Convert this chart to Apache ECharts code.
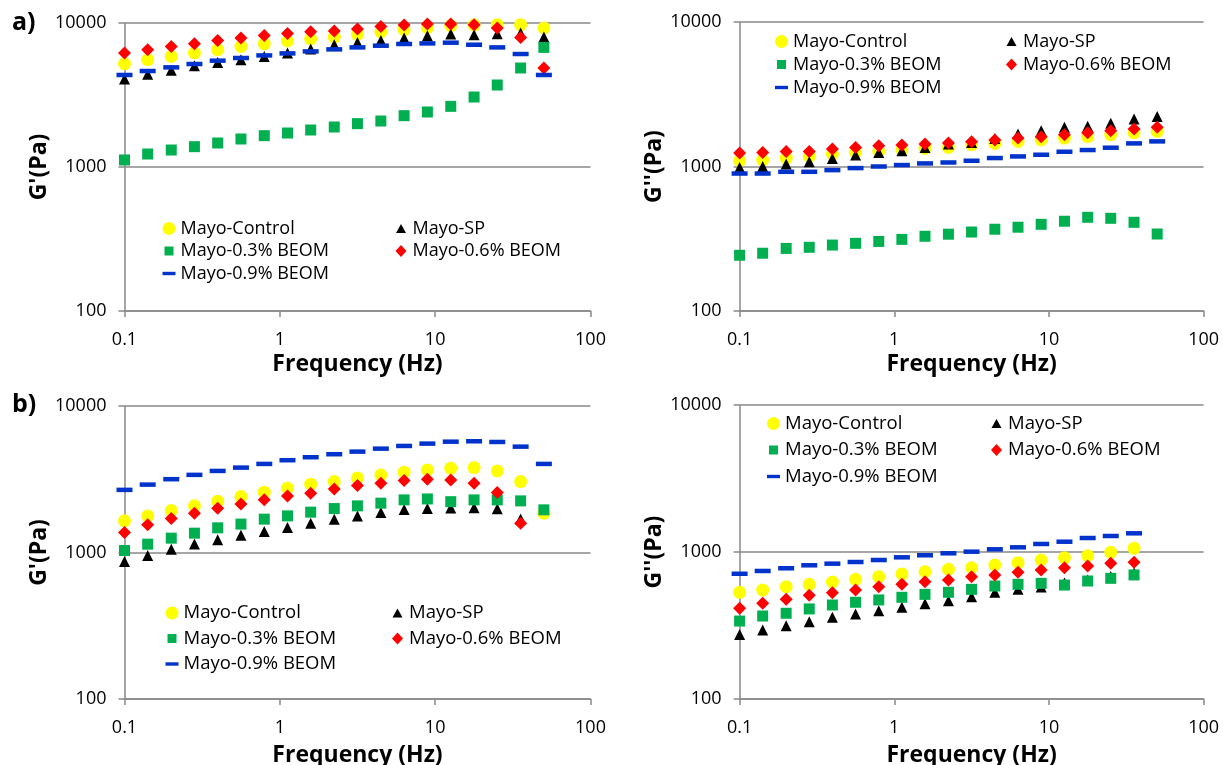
<!DOCTYPE html>
<html>
<head>
<meta charset="utf-8">
<script src="https://cdn.jsdelivr.net/npm/echarts@6/dist/echarts.min.js"></script>
<style>
html,body{margin:0;padding:0;background:#fff;}
#chart{width:1223px;height:765px;}
</style>
</head>
<body>
<div id="chart"></div>
<script>
// Frequency (Hz)
var freq = [0.1, 0.141, 0.2, 0.282, 0.398, 0.562, 0.794, 1.12, 1.58, 2.24, 3.16, 4.47, 6.31, 8.91, 12.6, 17.8, 25.1, 35.5, 50.1];

var seriesNames = ['Mayo-Control', 'Mayo-SP', 'Mayo-0.3% BEOM', 'Mayo-0.6% BEOM', 'Mayo-0.9% BEOM'];
var xTickLabels = ['0.1', '1', '10', '100'];
var yTickLabels = ['100', '1000', '10000'];
var panelLabels = ['a)', 'b)'];
var xTitle = 'Frequency (Hz)';
var yTitles = ["G'(Pa)", "G''(Pa)"];

// Panel a) G'
var aG1_control = [5215, 5560, 5860, 6190, 6530, 6880, 7180, 7500, 7740, 7990, 8330, 8660, 8990, 9280, 9580, 9680, 9730, 9730, 9230];
var aG1_sp      = [4085, 4400, 4690, 5050, 5325, 5560, 5860, 6190, 6600, 7070, 7330, 7570, 7870, 8160, 8390, 8300, 8430, 8520, 7990];
var aG1_b03     = [1119, 1231, 1312, 1384, 1468, 1565, 1650, 1722, 1807, 1896, 2000, 2086, 2272, 2410, 2637, 3062, 3710, 4870, 6770];
var aG1_b06     = [6190, 6530, 6880, 7180, 7570, 7870, 8200, 8470, 8700, 8800, 9080, 9470, 9680, 9840, 9840, 9730, 9230, 7940, 4870];
var aG1_b09     = [4355, 4640, 4920, 5190, 5475, 5715, 5955, 6150, 6350, 6560, 6770, 6955, 7150, 7215, 7300, 7065, 6770, 6090, 4355];

// Panel a) G''
var aG2_control = [1096, 1108, 1144, 1174, 1219, 1251, 1271, 1306, 1334, 1356, 1415, 1445, 1492, 1525, 1574, 1608, 1660, 1714, 1750];
var aG2_sp      = [985, 1000, 1039, 1078, 1137, 1200, 1251, 1286, 1356, 1430, 1468, 1565, 1680, 1770, 1866, 1896, 1990, 2133, 2215];
var aG2_b03     = [243, 251, 271, 276, 286, 294, 303, 313, 329, 340, 352, 368, 380, 398, 418, 445, 438, 411, 341];
var aG2_b06     = [1239, 1251, 1271, 1271, 1321, 1356, 1392, 1408, 1430, 1453, 1485, 1525, 1574, 1608, 1660, 1714, 1770, 1820, 1866];
var aG2_b09     = [894, 894, 919, 919, 944, 975, 1000, 1023, 1050, 1066, 1096, 1144, 1174, 1206, 1265, 1300, 1349, 1445, 1492];

// Panel b) G'
var bG1_control = [1644, 1778, 1933, 2081, 2240, 2408, 2582, 2748, 2925, 3048, 3230, 3385, 3532, 3663, 3762, 3797, 3604, 3048, 1856];
var bG1_sp      = [868, 954, 1054, 1141, 1221, 1314, 1390, 1480, 1586, 1689, 1778, 1874, 1965, 2000, 2010, 2020, 1990, 1690];
var bG1_b03     = [1032, 1140, 1253, 1355, 1474, 1563, 1689, 1778, 1886, 1995, 2081, 2172, 2287, 2320, 2223, 2287, 2287, 2251, 1955];
var bG1_b06     = [1368, 1545, 1705, 1856, 2008, 2147, 2287, 2435, 2540, 2718, 2862, 2972, 3097, 3165, 3130, 2972, 2565, 1586];
var bG1_b09     = [2676, 2907, 3165, 3388, 3604, 3797, 4024, 4265, 4470, 4686, 4881, 5116, 5337, 5536, 5708, 5745, 5682, 5279, 4024];

// Panel b) G''
var bG2_control = [532, 551, 581, 603, 625, 652, 679, 708, 734, 763, 782, 816, 846, 882, 915, 944, 995, 1060];
var bG2_sp      = [275, 295, 315, 336, 360, 379, 399, 421, 445, 466, 497, 532, 558, 578, 615, 645, 681, 720];
var bG2_b03     = [339, 367, 383, 410, 436, 455, 472, 492, 515, 532, 557, 587, 603, 612, 596, 635, 662, 698];
var bG2_b06     = [414, 448, 477, 508, 529, 551, 581, 603, 628, 645, 679, 698, 728, 754, 782, 803, 838, 851];
var bG2_b09     = [711, 743, 775, 812, 833, 855, 882, 920, 950, 980, 1005, 1043, 1076, 1134, 1175, 1245, 1285, 1340];

var panels = [
  [aG1_control, aG1_sp, aG1_b03, aG1_b06, aG1_b09],
  [aG2_control, aG2_sp, aG2_b03, aG2_b06, aG2_b09],
  [bG1_control, bG1_sp, bG1_b03, bG1_b06, bG1_b09],
  [bG2_control, bG2_sp, bG2_b03, bG2_b06, bG2_b09]
];

var FONT = 'Open Sans';
var AX = '#898989';
var colors = ['#FFFF00', '#000000', '#00B050', '#FF0000', '#0033CC'];
var symbols = ['circle', 'triangle', 'rect', 'diamond', 'rect'];
var sizes = [13, 11, 11, 13, [16, 4.5]];
var legendIcons = [
  'circle',
  'path://M0,0M13,13M6.5,2L11.5,11L1.5,11Z',
  'path://M0,0M13,13M2,2L11,2L11,11L2,11Z',
  'path://M0,0M13,13M6.5,0.5L12,6.5L6.5,12.5L1,6.5Z',
  'path://M0,0M13,13M0,4.8L13,4.8L13,8.2L0,8.2Z'
];

var grids = [
  {left: 124.5, top: 23, width: 466, height: 288, outerBoundsMode: 'none', containLabel: false},
  {left: 739.6, top: 22, width: 464, height: 289, outerBoundsMode: 'none', containLabel: false},
  {left: 124.5, top: 406, width: 466, height: 293, outerBoundsMode: 'none', containLabel: false},
  {left: 739.6, top: 405, width: 464, height: 294, outerBoundsMode: 'none', containLabel: false}
];
var legendPos = [
  {c1: 162.5, c2: 394.5, top: 219.5, gap: 4.5, fs: 18},
  {c1: 775, c2: 1005, top: 32.5, gap: 5, fs: 18},
  {c1: 165.5, c2: 391, top: 603.5, gap: 6.5, fs: 18.5},
  {c1: 767, c2: 990, top: 414, gap: 7.5, fs: 18.5}
];

function fmt(v, labels) {
  for (var i = 0; i < labels.length; i++) {
    if (Math.abs(Math.log10(v) - Math.log10(parseFloat(labels[i]))) < 1e-6) return labels[i];
  }
  return '';
}

var xAxes = [], yAxes = [], series = [], legends = [];
grids.forEach(function (g, gi) {
  xAxes.push({
    type: 'log', logBase: 10, gridIndex: gi, min: 0.1, max: 100,
    axisLine: {show: true, lineStyle: {color: AX, width: 1.5}},
    axisTick: {show: true, length: 6, lineStyle: {color: AX, width: 1.5}},
    minorTick: {show: false},
    splitLine: {show: false},
    axisLabel: {fontFamily: FONT, fontSize: 18, color: '#000', margin: 20,
      formatter: function (v) { return fmt(v, xTickLabels); }},
    name: xTitle, nameLocation: 'middle', nameGap: gi < 2 ? 42 : 45,
    nameTextStyle: {fontFamily: FONT, fontSize: 23, fontWeight: 'bold', color: '#000'}
  });
  yAxes.push({
    type: 'log', logBase: 10, gridIndex: gi, min: 100, max: 10000,
    axisLine: {show: true, lineStyle: {color: AX, width: 1.5}},
    axisTick: {show: true, length: 6, lineStyle: {color: AX, width: 1.5}},
    minorTick: {show: false},
    splitLine: {show: true, lineStyle: {color: AX, width: 1.5}},
    axisLabel: {fontFamily: FONT, fontSize: 18, color: '#000', margin: 18,
      formatter: function (v) { return fmt(v, yTickLabels); }},
    name: yTitles[gi % 2], nameLocation: 'middle', nameGap: 64, nameRotate: 90,
    nameTextStyle: {fontFamily: FONT, fontSize: 23, fontWeight: 'bold', color: '#000'}
  });
  panels[gi].forEach(function (arr, si) {
    series.push({
      type: 'scatter', name: seriesNames[si], xAxisIndex: gi, yAxisIndex: gi,
      symbol: symbols[si], symbolSize: sizes[si],
      itemStyle: {color: colors[si], opacity: 1},
      emphasis: {disabled: true},
      z: 2 + si,
      data: arr.map(function (v, i) { return [freq[i], v]; })
    });
  });
  var lp = legendPos[gi];
  var common = {
    orient: 'vertical', top: lp.top, itemWidth: 13, itemHeight: 13, itemGap: lp.gap,
    padding: 0, selectedMode: false,
    textStyle: {fontFamily: FONT, fontSize: lp.fs, color: '#000'}
  };
  legends.push(Object.assign({}, common, {left: lp.c1,
    data: [0, 2, 4].map(function (k) { return {name: seriesNames[k], icon: legendIcons[k]}; })}));
  legends.push(Object.assign({}, common, {left: lp.c2,
    data: [1, 3].map(function (k) { return {name: seriesNames[k], icon: legendIcons[k]}; })}));
});

var chart = echarts.init(document.getElementById('chart'), null, {renderer: 'canvas'});
chart.setOption({
  animation: false,
  backgroundColor: '#fff',
  grid: grids,
  xAxis: xAxes,
  yAxis: yAxes,
  legend: legends,
  graphic: [
    {type: 'text', left: 12, top: 10, style: {text: panelLabels[0], font: 'bold 25px "Open Sans"', fill: '#000'}},
    {type: 'text', left: 12, top: 392, style: {text: panelLabels[1], font: 'bold 25px "Open Sans"', fill: '#000'}}
  ],
  series: series
});
</script>
</body>
</html>
